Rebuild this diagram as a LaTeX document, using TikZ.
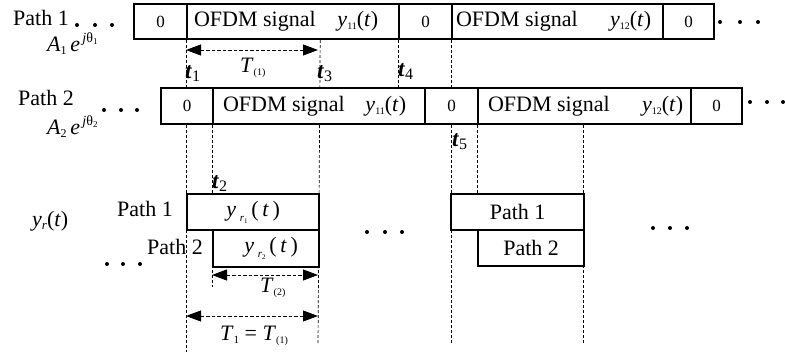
\documentclass[tikz,border=0pt]{standalone}
\usepackage{fontspec}
\setmainfont{Liberation Serif}
\usetikzlibrary{arrows.meta}
\pgfdeclarelayer{background}
\pgfsetlayers{background,main}
\newcommand\ysub[1]{\textit{y}\raisebox{-3pt}{\fontsize{10}{10}\selectfont #1}(\textit{t})}
\newcommand\ofdm[4]{\makebox[#1pt][s]{\hspace*{#2pt}OFDM signal\hfill\ysub{#4}\hspace*{#3pt}}}
\newcommand\yr[1]{\textit{y}\,\raisebox{-5pt}{\fontsize{11}{11}\selectfont\textit{r}\raisebox{-2pt}{\fontsize{7}{7}\selectfont #1}}\,(\,\textit{t}\,)}
\newcommand\tlab[1]{\textbf{\textit{t}}\raisebox{-3pt}{\fontsize{16}{16}\selectfont #1}}
\newcommand\Tlab[1]{\textit{T}\raisebox{-3pt}{\fontsize{10}{10}\selectfont #1}}
\newcommand\Aexp[1]{\textit{A}\raisebox{-3pt}{\fontsize{12}{12}\selectfont #1}\,\textit{e}\raisebox{9pt}{\fontsize{14}{14}\selectfont\,\textit{j}θ\raisebox{-2pt}{\fontsize{9}{9}\selectfont #1}}}
\begin{document}
\begin{tikzpicture}[x=1pt,y=-1pt,
  blk/.style={draw, line width=2.2pt, fill=white, inner sep=0pt, anchor=north west, font=\fontsize{22}{24}\selectfont},
  zero/.style={blk, font=\fontsize{17}{18}\selectfont},
  guide/.style={line width=0.7pt, dash pattern=on 3pt off 2pt},
  dimline/.style={line width=0.8pt, dash pattern=on 3.5pt off 2pt, {Triangle[length=15pt,width=11pt]}-{Triangle[length=15pt,width=11pt]}},
  lbl/.style={inner sep=0pt, anchor=base west, font=\fontsize{22}{24}\selectfont},
  tl/.style={inner sep=0pt, anchor=base west, font=\fontsize{23}{24}\selectfont},
]
\useasboundingbox (0,0) rectangle (785,358);

% Row 1
\node[zero, minimum width=53pt, minimum height=35pt] (a1) at (133,3) {0};
\node[blk, minimum width=212pt, minimum height=35pt] (a2) at (186,3) {\ofdm{212}{7}{21}{11}};
\node[zero, minimum width=53pt, minimum height=35pt] (a3) at (398,3) {0};
\node[blk, minimum width=211pt, minimum height=35pt] (a4) at (451,3) {\ofdm{211}{4}{12}{12}};
\node[zero, minimum width=51pt, minimum height=35pt] (a5) at (662,3) {0};

% Row 2
\node[zero, minimum width=52pt, minimum height=36pt] (b1) at (160,87) {0};
\node[blk, minimum width=212pt, minimum height=36pt] (b2) at (212,87) {\ofdm{212}{10}{19}{11}};
\node[zero, minimum width=53pt, minimum height=36pt] (b3) at (424,87) {0};
\node[blk, minimum width=213pt, minimum height=36pt] (b4) at (477,87) {\ofdm{213}{10}{8}{12}};
\node[zero, minimum width=51pt, minimum height=36pt] (b5) at (690,87) {0};

% Received
\node[blk, minimum width=132pt, minimum height=36pt] (c1) at (186,193) {\yr{1}};
\node[blk, minimum width=106pt, minimum height=37pt] (c2) at (212,229) {\hspace*{10pt}\yr{2}};
\node[blk, minimum width=133pt, minimum height=36pt] (d1) at (450,193) {Path 1};
\node[blk, minimum width=106pt, minimum height=36pt] (d2) at (477,229) {Path 2};

% Guide coordinates
\coordinate (g1b) at (186,352);
\coordinate (g3b) at (318,345);
\coordinate (g5b) at (451,345);
\coordinate (g2b) at (212,287);
\coordinate (g6b) at (583,345);

\begin{pgfonlayer}{background}
\draw[guide] (a2.south west) -- (g1b);
\draw[guide] (a2.south east) ++(-80,0) coordinate (g3t) -- (g3b);
\draw[guide] (a3.south west) -- (b3.north west -| a3.south west);
\draw[guide] (a4.south west) -- (g5b);
\draw[guide] (b2.south west) -- (g2b);
\draw[guide] (b4.south west) -- (d2.north west);
\draw[guide] (b4.south west) ++(106,0) coordinate (g6t) -- (g6b);
\end{pgfonlayer}

% Dimension arrows
\coordinate (T1a) at (186,50); \coordinate (T1b) at (318,50);
\coordinate (T2a) at (212,275); \coordinate (T2b) at (318,275);
\coordinate (T3a) at (186,316); \coordinate (T3b) at (318,316);
\draw[dimline] (T1a) -- (T1b);
\draw[dimline] (T2a) -- (T2b);
\draw[dimline] (T3a) -- (T3b);

% Time labels
\node[tl] (t1) at (185,79) {\tlab{1}};
\node[tl] (t3) at (317,79) {\tlab{3}};
\node[tl] (t4) at (398,77) {\tlab{4}};
\node[tl] (t2) at (212,189) {\tlab{2}};
\node[tl] (t5) at (452,147) {\tlab{5}};

\node[lbl] (T1) at (240,73) {\Tlab{(1)}};
\node[lbl] (T2) at (260,293) {\Tlab{(2)}};
\node[lbl] (T3) at (220,340) {\textit{T}\raisebox{-3pt}{\fontsize{11}{11}\selectfont 1} = \Tlab{(1)}};

% Left labels
\node[lbl] (p1) at (13,26) {Path 1};
\node[lbl] (p2) at (18,106) {Path 2};
\node[lbl] (A1) at (47,52) {\Aexp{1}};
\node[lbl] (A2) at (47,135) {\Aexp{2}};
\node[lbl] (yr) at (32,227) {\textit{y}\raisebox{-3pt}{\fontsize{13}{13}\selectfont\textit{r}}(\textit{t})};
\node[lbl] (q1) at (117,217) {Path 1};
\node[lbl] (q2) at (147,255) {Path 2};

% Ellipsis dots
\foreach \x/\y in {77/25,95/25,112/25, 720/22,740/22,758/22,
                   104/110,121/110,137/110, 750/102,767/102,783/102,
                   107/264,123/264,140/264, 367/232,385/232,402/232,
                   653/228,670/228,687/228}
  \fill (\x,\y) circle (2pt);
\end{tikzpicture}
\end{document}
